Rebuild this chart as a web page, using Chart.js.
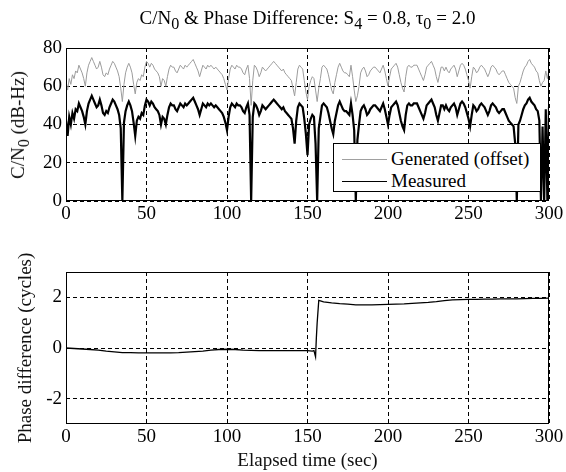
<!DOCTYPE html>
<html>
<head>
<meta charset="utf-8">
<script src="https://cdn.jsdelivr.net/npm/chart.js@4.4.0/dist/chart.umd.min.js"></script>
<style>
html,body{margin:0;padding:0;background:#fff;}
#wrap{position:relative;width:566px;height:472px;overflow:hidden;font-family:"Liberation Serif","Times New Roman",serif;color:#000;}
canvas{position:absolute;left:0;top:0;}
#title{position:absolute;left:0;top:7px;width:615px;text-align:center;font-size:19px;line-height:22px;white-space:nowrap;}
#title sub,#ylab1 sub{font-size:0.85em;vertical-align:-0.3em;line-height:0;}
#ylab1{position:absolute;left:18px;top:125px;font-size:19px;line-height:22px;white-space:nowrap;color:#111;transform:translate(-50%,-50%) rotate(-90deg);}
#legend{position:absolute;left:333px;top:143px;width:206px;height:47px;border:1px solid #000;background:#fff;font-size:19px;}
.row{position:absolute;left:0;height:22px;line-height:22px;white-space:nowrap;}
.sw{position:absolute;left:8px;top:11px;width:45px;height:0;}
.lt{position:absolute;left:57px;top:0;}
</style>
</head>
<body>
<div id="wrap">
  <canvas id="c1" width="566" height="240"></canvas>
  <canvas id="c2" width="566" height="472"></canvas>
  <div id="title">C/N<sub>0</sub> &amp; Phase Difference: S<sub>4</sub> = 0.8, τ<sub>0</sub> = 2.0</div>
  <div id="ylab1">C/N<sub>0</sub> (dB-Hz)</div>
  <div id="legend">
    <div class="row" style="top:4px;"><div class="sw" style="border-top:1px solid #a0a0a0;"></div><span class="lt">Generated (offset)</span></div>
    <div class="row" style="top:26px;"><div class="sw" style="border-top:1.5px solid #000;"></div><span class="lt">Measured</span></div>
  </div>
</div>
<script>
// ---- data ----
const seriesNames = ["Generated (offset)", "Measured"];
const timeTicks = [0, 50, 100, 150, 200, 250, 300];
const cnTicks = [0, 20, 40, 60, 80];
const phaseTicks = [-2, 0, 2];

// C/N0 samples at 1-second spacing, t = 0 .. 300 s
const cnGenerated = [
63,58,64,61,66,64,68,67,71,69,
67,64,60,67,71,73,75,73,71,69,
70,73,70,66,65,67,66,69,71,73,
72,70,68,65,59,52,61,67,70,72,
70,67,61,56,62,64,63,66,65,70,
73,72,70,72,71,69,68,67,65,60,
64,63,60,65,69,71,70,70,68,67,
69,71,70,69,71,70,71,72,73,74,
72,70,68,65,68,71,70,69,71,70,
71,70,69,70,69,68,67,66,64,61,
58,64,69,71,70,69,71,70,70,69,
67,66,69,71,64,50,63,71,70,68,
65,67,70,69,68,69,70,71,72,73,
72,71,70,69,68,69,67,66,65,64,
63,59,55,62,69,71,70,69,63,57,
53,60,63,65,64,58,52,59,64,70,
71,70,69,66,62,58,56,62,66,70,
72,70,68,67,67,66,65,71,65,58,
52,55,60,67,69,70,68,65,66,68,
69,70,70,69,68,67,69,71,68,64,
60,65,69,70,71,72,70,66,62,59,
57,65,70,71,70,70,71,71,71,69,
67,65,63,66,70,71,72,73,71,69,
65,62,66,70,70,68,70,68,67,69,
70,71,69,65,68,71,72,71,69,66,
63,59,65,70,69,67,68,70,71,70,
69,67,65,67,70,71,70,69,67,66,
67,68,68,66,64,62,61,60,59,54,
51,60,62,65,68,70,71,73,74,72,
71,70,68,67,63,60,62,63,68,64,
69];
const cnMeasured = [
42,34,44,40,46,43,48,47,51,49,
47,44,40,47,51,53,55,53,51,49,
50,53,50,46,45,47,46,49,51,53,
52,50,48,45,38,0,41,47,50,52,
50,47,41,34,42,44,43,46,45,50,
53,52,50,52,51,49,48,47,45,40,
44,43,40,45,49,51,50,50,48,47,
49,51,50,49,51,50,51,52,53,54,
52,50,48,45,48,51,50,49,51,50,
51,50,49,50,49,48,47,46,44,41,
37,44,49,51,50,49,51,50,50,49,
47,46,49,51,45,0,44,51,50,48,
45,47,50,49,48,49,50,51,52,53,
52,51,50,49,48,49,47,46,45,44,
43,38,30,42,49,51,50,49,43,35,
24,40,43,45,44,30,0,38,44,50,
51,50,49,46,42,38,35,42,46,50,
52,50,48,47,47,46,45,51,45,37,
0,32,40,47,49,50,48,45,46,48,
49,50,50,49,48,47,49,51,48,44,
40,45,49,50,51,52,50,46,42,39,
37,45,50,51,50,50,51,51,51,49,
47,45,43,46,50,51,52,53,51,49,
45,42,46,50,50,48,50,48,47,49,
50,51,49,45,48,51,52,51,49,46,
43,39,45,50,49,47,48,50,51,50,
49,47,45,47,50,51,50,49,47,46,
47,48,48,46,44,42,41,40,39,30,
0,40,42,45,48,50,51,53,54,52,
51,50,48,47,42,0,39,0,48,0,
49];
const cnTime = cnMeasured.map((_, i) => i);

const phaseTime = [0,5,10,15,20,25,30,35,40,45,50,55,60,65,70,75,80,85,90,95,100,105,110,115,120,125,130,135,140,145,150,153,154,155,155.5,156,157,160,165,170,175,180,185,190,195,200,205,210,215,220,225,230,235,240,245,250,255,260,265,270,275,280,285,290,295,300];
const phaseDiff = [0,-0.02,-0.04,-0.06,-0.08,-0.12,-0.15,-0.18,-0.18,-0.19,-0.19,-0.19,-0.19,-0.19,-0.18,-0.16,-0.14,-0.12,-0.08,-0.06,-0.05,-0.06,-0.08,-0.09,-0.1,-0.1,-0.1,-0.1,-0.1,-0.1,-0.1,-0.12,-0.1,-0.35,0.4,1.0,1.88,1.82,1.78,1.75,1.73,1.7,1.7,1.7,1.71,1.72,1.73,1.74,1.76,1.78,1.8,1.83,1.87,1.9,1.91,1.92,1.92,1.93,1.93,1.94,1.94,1.94,1.95,1.96,1.96,1.97];

// ---- styling / charts ----
Chart.defaults.font.family = 'Liberation Serif';
Chart.defaults.font.size = 19;
const FONT = {family: 'Liberation Serif', size: 19};
const boxPlugin = {
  id: 'box',
  afterDraw(chart) {
    const {ctx, chartArea: {left, top, right, bottom}} = chart;
    ctx.save();
    ctx.strokeStyle = '#000';
    ctx.lineWidth = 1;
    ctx.setLineDash([]);
    ctx.strokeRect(Math.round(left) + 0.5, Math.round(top) + 0.5, Math.round(right - left) - 1, Math.round(bottom - top) - 1);
    ctx.restore();
  }
};
function gridOpts() {
  return {color: '#000', lineWidth: 1, drawTicks: false};
}
function borderOpts() {
  return {display: false, dash: [4, 3]};
}

new Chart(document.getElementById('c1'), {
  type: 'line',
  data: {
    datasets: [
      {label: seriesNames[0], data: cnTime.map((t, i) => ({x: t, y: cnGenerated[i]})), borderColor: '#9c9c9c', borderWidth: 1, pointRadius: 0, tension: 0, order: 2},
      {label: seriesNames[1], data: cnTime.map((t, i) => ({x: t, y: cnMeasured[i]})), borderColor: '#000', borderWidth: 2.2, pointRadius: 0, tension: 0, order: 1}
    ]
  },
  options: {
    responsive: false, animation: false, devicePixelRatio: 1,
    layout: {padding: {top: 48, right: 17, left: 0, bottom: 0}},
    plugins: {legend: {display: false}, tooltip: {enabled: false}, title: {display: false}},
    scales: {
      x: {type: 'linear', min: 0, max: 300,
          afterBuildTicks: s => { s.ticks = timeTicks.map(v => ({value: v})); },
          afterFit: s => { s.height = 39; },
          grid: gridOpts(), border: borderOpts(),
          ticks: {color: '#000', font: FONT, padding: 2, maxRotation: 0}},
      y: {min: 0, max: 80,
          afterBuildTicks: s => { s.ticks = cnTicks.map(v => ({value: v})); },
          afterFit: s => { s.width = 66; },
          grid: gridOpts(), border: borderOpts(),
          ticks: {color: '#000', font: FONT, padding: 4}}
    }
  },
  plugins: [boxPlugin]
});

new Chart(document.getElementById('c2'), {
  type: 'line',
  data: {
    datasets: [
      {label: 'Phase difference', data: phaseTime.map((t, i) => ({x: t, y: phaseDiff[i]})), borderColor: '#000', borderWidth: 1.3, pointRadius: 0, tension: 0}
    ]
  },
  options: {
    responsive: false, animation: false, devicePixelRatio: 1,
    layout: {padding: {top: 272, right: 17, left: 0, bottom: 0}},
    plugins: {legend: {display: false}, tooltip: {enabled: false}, title: {display: false}},
    scales: {
      x: {type: 'linear', min: 0, max: 300,
          afterBuildTicks: s => { s.ticks = timeTicks.map(v => ({value: v})); },
          afterFit: s => { s.height = 48; },
          grid: gridOpts(), border: borderOpts(),
          ticks: {color: '#000', font: FONT, padding: 2, maxRotation: 0},
          title: {display: true, text: 'Elapsed time (sec)', color: '#111', font: FONT, padding: {top: 0, bottom: 0}}},
      y: {min: -3, max: 3,
          afterBuildTicks: s => { s.ticks = phaseTicks.map(v => ({value: v})); },
          afterFit: s => { s.width = 66; },
          grid: gridOpts(), border: borderOpts(),
          ticks: {color: '#000', font: FONT, padding: 4},
          title: {display: true, text: 'Phase difference (cycles)', color: '#111', font: FONT, padding: {top: 15, bottom: 0}}}
    }
  },
  plugins: [boxPlugin]
});
</script>
</body>
</html>
